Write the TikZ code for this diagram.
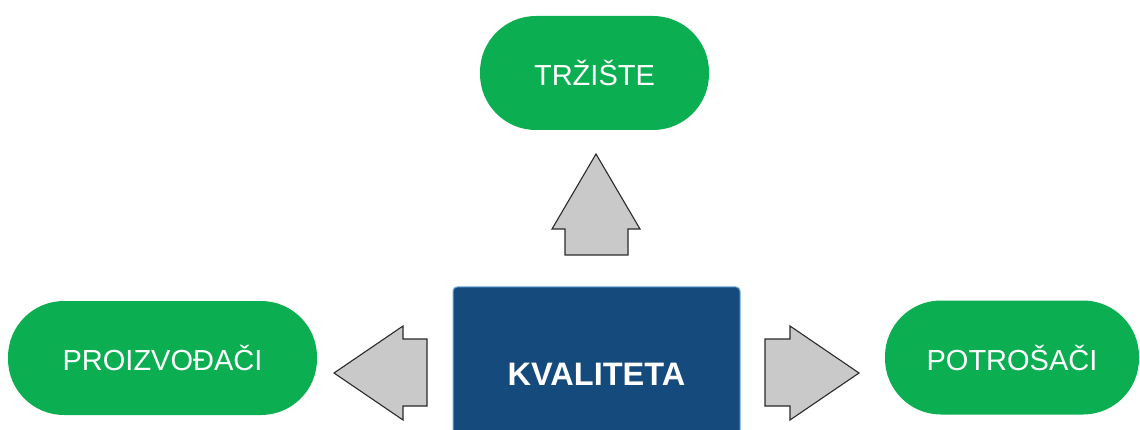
\documentclass[tikz,border=0pt]{standalone}
\usepackage{fontspec}
\setmainfont{Liberation Sans}
\definecolor{boxgreen}{HTML}{0BAE50}
\definecolor{boxblue}{HTML}{154A7C}
\definecolor{boxedge}{HTML}{6FA8DC}
\definecolor{arrowfill}{HTML}{C9C9C9}
\definecolor{arrowline}{HTML}{2A2A2A}
\begin{document}
\begin{tikzpicture}[x=1pt,y=1pt,
  pill/.style={fill=boxgreen, draw=none, rounded corners=56pt, minimum height=114pt,
    inner sep=0pt, text=white, font=\fontsize{29}{33}\selectfont},
  core/.style={fill=boxblue, draw=boxedge, line width=1pt, rounded corners=4pt,
    minimum width=287pt, minimum height=174pt, inner sep=0pt, text=white,
    font=\fontsize{32.5}{37}\selectfont\bfseries},
  blockarrow/.style={fill=arrowfill, draw=arrowline, line width=1.1pt, line join=miter}]
\useasboundingbox (0,0) rectangle (1140,-430);
\clip (0,0) rectangle (1140,-430);
\fill[white] (0,0) rectangle (1140,-430);

\node[pill, minimum width=229pt] (market) at (594.5,-73) {TRŽIŠTE};
\node[pill, minimum width=309pt] (producers) at (162.5,-358) {PROIZVOĐAČI};
\node[pill, minimum width=254pt] (consumers) at (1012,-357.5) {POTROŠAČI};
\node[core] (quality) at (596.5,-374) {KVALITETA};

% up arrow
\draw[blockarrow] (596,-154) -- (640,-229) -- (628,-229) -- (628,-255)
  -- (565,-255) -- (565,-229) -- (552,-229) -- cycle;
% left arrow
\draw[blockarrow] (334,-373) -- (403,-326) -- (403,-339) -- (427,-339)
  -- (427,-406) -- (403,-406) -- (403,-420) -- cycle;
% right arrow
\draw[blockarrow] (859,-373) -- (790,-326) -- (790,-339) -- (765,-339)
  -- (765,-406) -- (790,-406) -- (790,-420) -- cycle;
\end{tikzpicture}
\end{document}
